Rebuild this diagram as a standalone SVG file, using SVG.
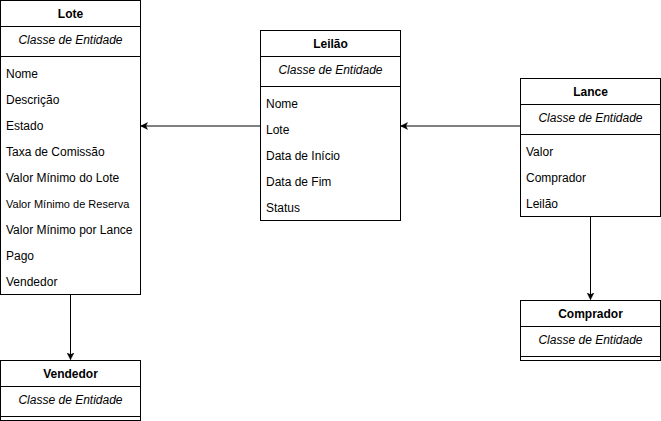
<svg xmlns="http://www.w3.org/2000/svg" width="661" height="421" viewBox="0 0 661 421">
<style>
.box{fill:#fff;stroke:#000;stroke-width:1}
.ln{stroke:#000;stroke-width:1;fill:none}
text{font-family:"Liberation Sans",Arial,Helvetica,sans-serif;font-size:12px;fill:#000;dominant-baseline:central}
.t{font-weight:bold;text-anchor:middle}
.c{font-style:italic;text-anchor:middle}
.s{font-size:11px}
</style>
<defs>
<marker id="arr" viewBox="0 0 10 10" refX="9.5" refY="5" markerWidth="7" markerHeight="8" markerUnits="userSpaceOnUse" orient="auto">
<path d="M0,0 L10,5 L0,10 L2.5,5 Z" fill="#000" stroke="#000" stroke-width="0.5"/>
</marker>
</defs>
<rect width="661" height="421" fill="#fff"/>
<g id="connectors">
<path class="ln" d="M260.5,126 L141,126" marker-end="url(#arr)"/>
<path class="ln" d="M520.5,126 L401,126" marker-end="url(#arr)"/>
<path class="ln" d="M70.5,294.5 L70.5,359.5" marker-end="url(#arr)"/>
<path class="ln" d="M590.5,216.5 L590.5,299.5" marker-end="url(#arr)"/>
</g>
<g id="lote">
<rect class="box" x="0.5" y="0.5" width="140" height="294"/>
<path class="ln" d="M0.5,26.5H140.5M0.5,56.5H140.5"/>
<text class="t" x="70.5" y="14">Lote</text>
<text class="c" x="70.5" y="40">Classe de Entidade</text>
<text x="6" y="74">Nome</text>
<text x="6" y="100">Descrição</text>
<text x="6" y="126">Estado</text>
<text x="6" y="152">Taxa de Comissão</text>
<text x="6" y="178">Valor Mínimo do Lote</text>
<text class="s" x="6" y="204">Valor Mínimo de Reserva</text>
<text x="6" y="230">Valor Mínimo por Lance</text>
<text x="6" y="256">Pago</text>
<text x="6" y="282">Vendedor</text>
</g>
<g id="leilao">
<rect class="box" x="260.5" y="30.5" width="140" height="190"/>
<path class="ln" d="M260.5,56.5H400.5M260.5,86.5H400.5"/>
<text class="t" x="330.5" y="44">Leilão</text>
<text class="c" x="330.5" y="70">Classe de Entidade</text>
<text x="266" y="104">Nome</text>
<text x="266" y="130">Lote</text>
<text x="266" y="156">Data de Início</text>
<text x="266" y="182">Data de Fim</text>
<text x="266" y="208">Status</text>
</g>
<g id="lance">
<rect class="box" x="520.5" y="78.5" width="140" height="138"/>
<path class="ln" d="M520.5,104.5H660.5M520.5,134.5H660.5"/>
<text class="t" x="590.5" y="92">Lance</text>
<text class="c" x="590.5" y="118">Classe de Entidade</text>
<text x="526" y="152">Valor</text>
<text x="526" y="178">Comprador</text>
<text x="526" y="204">Leilão</text>
</g>
<g id="comprador">
<rect class="box" x="520.5" y="300.5" width="140" height="60"/>
<path class="ln" d="M520.5,326.5H660.5M520.5,356.5H660.5"/>
<text class="t" x="590.5" y="314">Comprador</text>
<text class="c" x="590.5" y="340">Classe de Entidade</text>
</g>
<g id="vendedor">
<rect class="box" x="0.5" y="360.5" width="140" height="60"/>
<path class="ln" d="M0.5,386.5H140.5M0.5,416.5H140.5"/>
<text class="t" x="70.5" y="374">Vendedor</text>
<text class="c" x="70.5" y="400">Classe de Entidade</text>
</g>
</svg>
